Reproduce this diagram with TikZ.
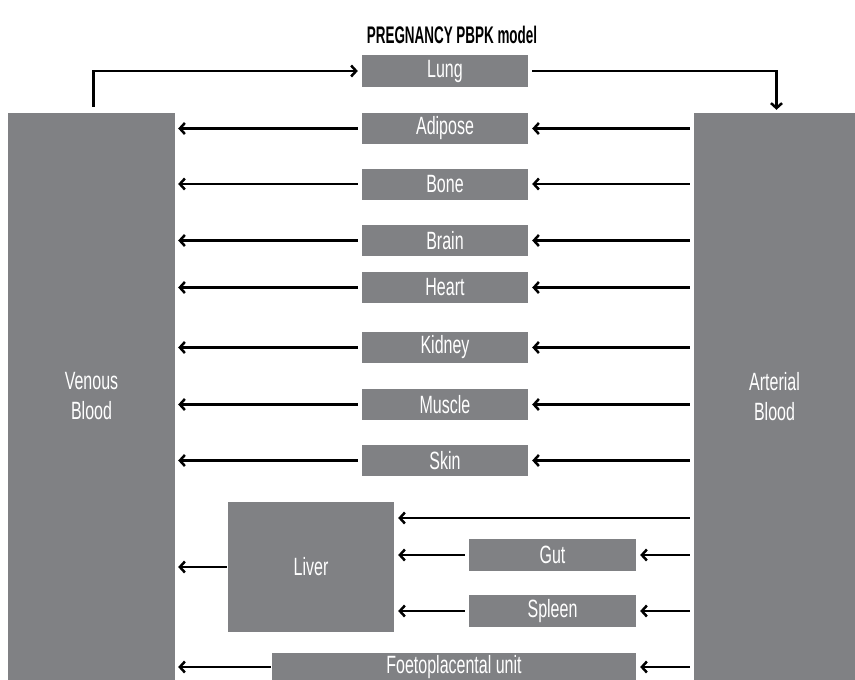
\documentclass[tikz,border=0pt]{standalone}
\usepackage{fontspec}
\setmainfont{Liberation Sans}
\newfontfamily\cond[FakeStretch=0.64]{Liberation Sans}
\newfontfamily\condt[FakeStretch=0.56]{Liberation Sans}
\usetikzlibrary{arrows.meta}
\definecolor{boxgray}{HTML}{808184}
\begin{document}
\begin{tikzpicture}[x=1pt,y=-1pt,
  organ/.style={fill=boxgray,draw=none,text=white,inner sep=0pt,
    minimum width=166pt,minimum height=31pt,
    font=\cond\fontsize{25}{30}\selectfont},
  blood/.style={organ,minimum width=167pt,minimum height=567pt,align=center},
  arr/.style={line width=2.8pt,-{Straight Barb[length=5pt,width=11pt,line width=2.5pt]}}
]
\useasboundingbox (0,0) rectangle (855,680);
\node[font=\condt\bfseries\fontsize{24}{28}\selectfont] (title) at (452,35) {PREGNANCY PBPK model};
\node[blood] (venous) at (91.5,396.5) {Venous\\Blood};
\node[blood,minimum width=161pt] (arterial) at (774.5,396.5) {Arterial\\Blood};
\node[organ,minimum height=32pt] (lung) at (445,71) {Lung};
\node[organ] (adipose) at (445,128.5) {Adipose};
\node[organ] (bone) at (445,184) {Bone};
\node[organ] (brain) at (445,240.5) {Brain};
\node[organ] (heart) at (445,287.5) {Heart};
\node[organ] (kidney) at (445,347.5) {Kidney};
\node[organ] (muscle) at (445,404.5) {Muscle};
\node[organ] (skin) at (445,460.5) {Skin};
\node[organ,minimum height=130pt] (liver) at (311,567) {Liver};
\node[organ,minimum width=167pt,minimum height=32pt] (gut) at (552.5,555) {Gut};
\node[organ,minimum width=167pt,minimum height=32pt] (spleen) at (552.5,611) {Spleen};
\node[organ,minimum width=364pt,minimum height=28pt] (foeto) at (454,667) {Foetoplacental unit};
% lung loop
\draw[arr] ([xshift=2pt,yshift=6pt]venous.north) |- ([xshift=-4pt]lung.west);
\draw[arr] ([xshift=4pt]lung.east) -| ([xshift=2pt,yshift=3pt]arterial.north);
% organ rows
\foreach \o in {adipose,bone,brain,heart,kidney,muscle,skin}{
  \draw[arr] ([xshift=-4pt]\o.west) -- ([xshift=3pt]venous.east |- \o);
  \draw[arr] ([xshift=-4pt]arterial.west |- \o) -- ([xshift=4pt]\o.east);
}
% liver group
\draw[arr] ([xshift=-4pt]arterial.west |- 0,518) -- ([xshift=4pt]liver.east |- 0,518);
\draw[arr] ([xshift=-4pt]gut.west) -- ([xshift=4pt]liver.east |- gut);
\draw[arr] ([xshift=-4pt]spleen.west) -- ([xshift=4pt]liver.east |- spleen);
\draw[arr] ([xshift=-4pt]arterial.west |- gut) -- ([xshift=4pt]gut.east);
\draw[arr] ([xshift=-4pt]arterial.west |- spleen) -- ([xshift=4pt]spleen.east);
\draw[arr] ([xshift=-1pt]liver.west) -- ([xshift=3pt]venous.east |- liver);
% foeto
\draw[arr] ([xshift=-1pt]foeto.west) -- ([xshift=3pt]venous.east |- foeto);
\draw[arr] ([xshift=-4pt]arterial.west |- foeto) -- ([xshift=4pt]foeto.east);
\end{tikzpicture}
\end{document}
